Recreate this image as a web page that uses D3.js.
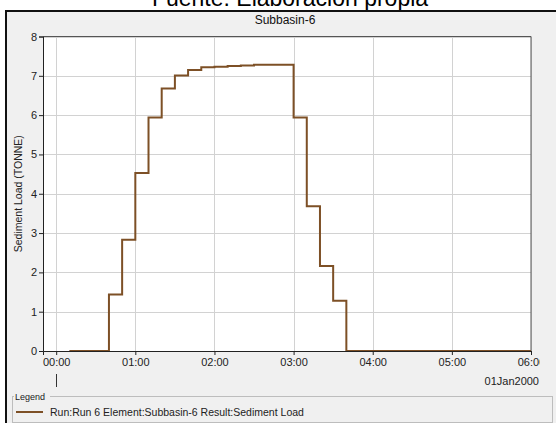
<!DOCTYPE html>
<html>
<head>
<meta charset="utf-8">
<script src="https://cdn.jsdelivr.net/npm/d3@7"></script>
<style>
    body { margin: 0; background: #fff; }
    text { font-family: "Liberation Sans", Arial, sans-serif; }
</style>
</head>
<body>
<script>
"use strict";

// time stamps (end of each 10 min interval) and sediment load in tonne
const times = ["00:10", "00:20", "00:30", "00:40", "00:50", "01:00", "01:10", "01:20", "01:30",
    "01:40", "01:50", "02:00", "02:10", "02:20", "02:30", "02:40", "02:50", "03:00",
    "03:10", "03:20", "03:30", "03:40", "03:50", "04:00", "04:10", "04:20", "04:30",
    "04:40", "04:50", "05:00", "05:10", "05:20", "05:30", "05:40", "05:50", "06:00"];
const sedimentLoad = [0, 0, 0, 0, 1.44, 2.83, 4.53, 5.94, 6.68,
    7.01, 7.15, 7.22, 7.23, 7.25, 7.26, 7.28, 7.28, 7.28,
    5.94, 3.68, 2.16, 1.28, 0, 0, 0, 0, 0,
    0, 0, 0, 0, 0, 0, 0, 0, 0];
const yTicks = [0, 1, 2, 3, 4, 5, 6, 7, 8];
const xTicks = ["00:00", "01:00", "02:00", "03:00", "04:00", "05:00", "06:00"];

const caption = "Fuente: Elaboración propia";
const chartTitle = "Subbasin-6";
const yLabel = "Sediment Load (TONNE)";
const dateLabel = "01Jan2000";
const legendText = "Run:Run 6 Element:Subbasin-6 Result:Sediment Load";

const W = 556, H = 423;
const plot = { left: 43, right: 531, top: 36.5, bottom: 351 };
const lineColor = "#7d5026";

const parseTime = d3.utcParse("%Y-%m-%d %H:%M");
const toDate = (t) => parseTime("2000-01-01 " + t);
const data = times.map((t, i) => ({ date: toDate(t), value: sedimentLoad[i] }));

const svg = d3.select("body").append("svg")
    .attr("width", W)
    .attr("height", H);

// caption, cut off by the top edge like in the source figure
svg.append("text")
    .attr("x", 290).attr("y", 6)
    .attr("text-anchor", "middle")
    .attr("font-size", 23)
    .attr("fill", "#000")
    .text(caption);

// window frame
svg.append("rect")
    .attr("x", 6).attr("y", 11)
    .attr("width", 560).attr("height", 430)
    .attr("fill", "#f0f0f0")
    .attr("stroke", "#111")
    .attr("stroke-width", 2);

svg.append("text")
    .attr("x", 285).attr("y", 24)
    .attr("text-anchor", "middle")
    .attr("font-size", 12)
    .attr("fill", "#111")
    .text(chartTitle);

// scales
const start = new Date(toDate("00:00").getTime() - 10 * 60 * 1000);
const x = d3.scaleUtc()
    .domain([start, toDate("06:00")])
    .range([plot.left, plot.right]);
const y = d3.scaleLinear()
    .domain([0, 8])
    .range([plot.bottom, plot.top]);

// plot background
svg.append("rect")
    .attr("x", plot.left).attr("y", plot.top)
    .attr("width", plot.right - plot.left)
    .attr("height", plot.bottom - plot.top)
    .attr("fill", "#fff");

// grid
const xTickDates = xTicks.map(toDate);
svg.append("g").selectAll("line")
    .data(xTickDates)
    .join("line")
    .attr("x1", d => Math.round(x(d)) + 0.5).attr("x2", d => Math.round(x(d)) + 0.5)
    .attr("y1", plot.top).attr("y2", plot.bottom)
    .attr("stroke", "#d2d2d2");
svg.append("g").selectAll("line")
    .data(yTicks)
    .join("line")
    .attr("x1", plot.left).attr("x2", plot.right)
    .attr("y1", d => Math.round(y(d)) + 0.5).attr("y2", d => Math.round(y(d)) + 0.5)
    .attr("stroke", "#d2d2d2");

// plot border (top/right)
svg.append("path")
    .attr("d", `M${plot.left},${plot.top}H${plot.right}V${plot.bottom}`)
    .attr("fill", "none")
    .attr("stroke", "#555");

// data line
const line = d3.line()
    .x(d => x(d.date))
    .y(d => y(d.value))
    .curve(d3.curveStepBefore);
svg.append("path")
    .datum(data)
    .attr("d", line)
    .attr("fill", "none")
    .attr("stroke", lineColor)
    .attr("stroke-width", 2);

// axes
const yAxis = d3.axisLeft(y)
    .tickValues(yTicks)
    .tickSize(4)
    .tickPadding(2)
    .tickFormat(d3.format("d"));
const gy = svg.append("g")
    .attr("transform", `translate(${plot.left},0)`)
    .call(yAxis);

// last x label is clipped at the frame edge
svg.append("clipPath").attr("id", "xclip")
    .append("rect").attr("x", 0).attr("y", 340).attr("width", 540).attr("height", 40);

const xAxis = d3.axisBottom(x)
    .tickValues(xTickDates)
    .tickSize(4)
    .tickPadding(3)
    .tickFormat(d3.utcFormat("%H:%M"));
const gx = svg.append("g")
    .attr("clip-path", "url(#xclip)")
    .append("g")
    .attr("transform", `translate(0,${plot.bottom})`)
    .call(xAxis);

[gx, gy].forEach(g => {
    g.select(".domain").attr("stroke", "#222");
    g.selectAll(".tick line").attr("stroke", "#222");
    g.selectAll(".tick text")
        .attr("font-family", "Liberation Sans, Arial, sans-serif")
        .attr("font-size", 11)
        .attr("fill", "#222");
});

// date marker
svg.append("line")
    .attr("x1", Math.round(x(toDate("00:00"))) + 0.5)
    .attr("x2", Math.round(x(toDate("00:00"))) + 0.5)
    .attr("y1", 374).attr("y2", 387)
    .attr("stroke", "#333");
svg.append("text")
    .attr("x", 539).attr("y", 385)
    .attr("text-anchor", "end")
    .attr("font-size", 11)
    .attr("fill", "#222")
    .text(dateLabel);

svg.append("text")
    .attr("transform", `translate(22,${(plot.top + plot.bottom) / 2}) rotate(-90)`)
    .attr("text-anchor", "middle")
    .attr("font-size", 10.5)
    .attr("fill", "#222")
    .text(yLabel);

// legend
svg.append("rect")
    .attr("x", 12.5).attr("y", 396.5)
    .attr("width", 540).attr("height", 26)
    .attr("fill", "none")
    .attr("stroke", "#bdbdbd");
svg.append("rect")
    .attr("x", 14).attr("y", 392)
    .attr("width", 36).attr("height", 9)
    .attr("fill", "#f0f0f0");
svg.append("text")
    .attr("x", 15).attr("y", 400)
    .attr("font-size", 9)
    .attr("fill", "#222")
    .text("Legend");
svg.append("line")
    .attr("x1", 16).attr("x2", 43)
    .attr("y1", 412).attr("y2", 412)
    .attr("stroke", lineColor)
    .attr("stroke-width", 2);
svg.append("text")
    .attr("x", 50).attr("y", 415.5)
    .attr("font-size", 10.5)
    .attr("fill", "#222")
    .text(legendText);
</script>
</body>
</html>
